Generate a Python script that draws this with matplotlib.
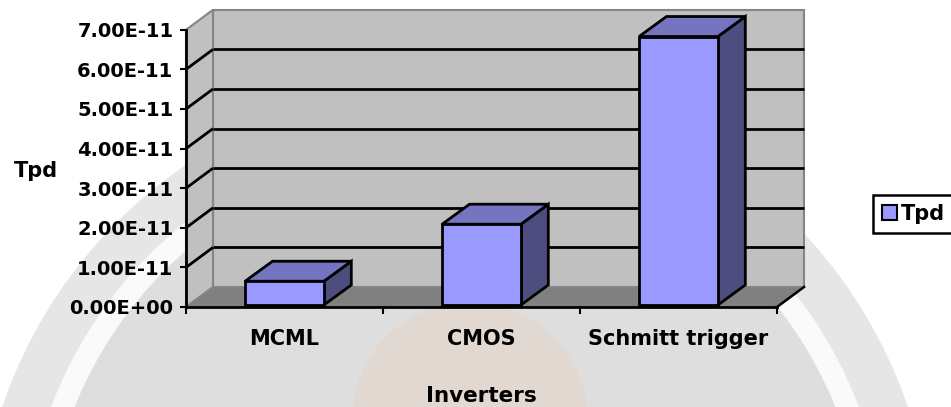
import matplotlib
matplotlib.use("Agg")
import matplotlib.pyplot as plt
from matplotlib.patches import Polygon, Circle, Patch
from matplotlib.ticker import FixedLocator, FuncFormatter, NullFormatter

# ---- data -------------------------------------------------------------
categories = ["MCML", "CMOS", "Schmitt trigger"]
tpd_values = [0.60e-11, 2.04e-11, 6.78e-11]
y_ticks = [0.0, 1e-11, 2e-11, 3e-11, 4e-11, 5e-11, 6e-11, 7e-11]
series_name = "Tpd"
x_title = "Inverters"
y_title = "Tpd"

# ---- styling ----------------------------------------------------------
FONT = "DejaVu Sans"
WALL = "#C0C0C0"
FLOOR = "#808080"
EDGE_GRAY = "#858585"
BAR_FRONT = "#9999FF"
BAR_TOP = "#7474C0"
BAR_SIDE = "#4D4D80"

W, H = 951, 407
fig = plt.figure(figsize=(W / 100, H / 100), dpi=100)
fig.patch.set_facecolor("white")

# faint page emblem behind the chart
bg = fig.add_axes([0, 0, 1, 1], zorder=-5)
bg.set_xlim(0, W)
bg.set_ylim(H, 0)
bg.axis("off")
cx, cy = 455, 560
bg.add_patch(Circle((cx, cy), 478, facecolor="#E6E6E6", edgecolor="none"))
bg.add_patch(Circle((cx, cy), 432, facecolor="#FAFAFA", edgecolor="none"))
bg.add_patch(Circle((cx, cy), 410, facecolor="#DEDEDE", edgecolor="none"))
bg.add_patch(Circle((470, 420), 118, facecolor="#E8CDBB", edgecolor="none", alpha=0.35))

# ---- 3-D style plot area ----------------------------------------------
PX_CAT = 197.0          # pixels per category
PX_UNIT = 39.6          # pixels per 1e-11
X0_PX, Y0_PX = 186, 307
RIGHT_PX, TOP_PX = 812, 4

ax = fig.add_axes([X0_PX / W, (H - Y0_PX) / H,
                   (RIGHT_PX - X0_PX) / W, (Y0_PX - TOP_PX) / H])
ax.set_facecolor("none")
ax.set_xlim(-0.5, -0.5 + (RIGHT_PX - X0_PX) / PX_CAT)
ax.set_ylim(0, (Y0_PX - TOP_PX) / PX_UNIT * 1e-11)

n = len(categories)
xl, xr = -0.5, n - 0.5
ymax = y_ticks[-1]
DX = 27.0 / PX_CAT
DY = 20.0 / PX_UNIT * 1e-11

# walls and floor
ax.add_patch(Polygon([(xl + DX, DY), (xr + DX, DY), (xr + DX, ymax + DY), (xl + DX, ymax + DY)],
                     closed=True, facecolor=WALL, edgecolor=EDGE_GRAY, lw=1.5, zorder=1, clip_on=False))
ax.add_patch(Polygon([(xl, 0), (xl + DX, DY), (xl + DX, ymax + DY), (xl, ymax)],
                     closed=True, facecolor=WALL, edgecolor=EDGE_GRAY, lw=1.5, zorder=1, clip_on=False))
ax.add_patch(Polygon([(xl, 0), (xr, 0), (xr + DX, DY), (xl + DX, DY)],
                     closed=True, facecolor=FLOOR, edgecolor=EDGE_GRAY, lw=1.2, zorder=1.5, clip_on=False))
ax.plot([xr, xr + DX], [0, DY], color="black", lw=1.8, zorder=1.6, clip_on=False)

# gridlines on the back and side walls
for v in y_ticks[1:-1]:
    ax.plot([xl + DX, xr + DX], [v + DY, v + DY], color="black", lw=2, zorder=2,
            solid_capstyle="butt", clip_on=False)
    ax.plot([xl, xl + DX], [v, v + DY], color="black", lw=2, zorder=2,
            solid_capstyle="butt", clip_on=False)

# bars as boxes
HALF = 0.2
LIFT = 2.0 / PX_UNIT * 1e-11
BDX = 27.4 / PX_CAT
BDY = DY
for i, v in enumerate(tpd_values):
    x0, x1 = i - HALF, i + HALF
    yb, yt = LIFT, v + LIFT
    kw = dict(closed=True, edgecolor="black", lw=2, joinstyle="miter", zorder=3, clip_on=False)
    ax.add_patch(Polygon([(x1, yb), (x1 + BDX, yb + BDY), (x1 + BDX, yt + BDY), (x1, yt)],
                         facecolor=BAR_SIDE, **kw))
    ax.add_patch(Polygon([(x0, yt), (x1, yt), (x1 + BDX, yt + BDY), (x0 + BDX, yt + BDY)],
                         facecolor=BAR_TOP, **kw))
    ax.add_patch(Polygon([(x0, yb), (x1, yb), (x1, yt), (x0, yt)],
                         facecolor=BAR_FRONT, **kw))

# axes lines and ticks
for s in ("top", "right"):
    ax.spines[s].set_visible(False)
ax.spines["left"].set_bounds(0, ymax)
ax.spines["bottom"].set_bounds(xl, xr)
for s in ("left", "bottom"):
    ax.spines[s].set_linewidth(2)
    ax.spines[s].set_zorder(4)

ax.yaxis.set_major_locator(FixedLocator(y_ticks))
ax.yaxis.set_major_formatter(FuncFormatter(lambda v, p: f"{v:.2E}"))
ax.tick_params(axis="y", direction="out", length=4, width=1.5, pad=5,
               labelsize=14, labelcolor="black")

ax.xaxis.set_major_locator(FixedLocator([xl + k for k in range(n + 1)]))
ax.xaxis.set_major_formatter(NullFormatter())
ax.xaxis.set_minor_locator(FixedLocator(list(range(n))))
ax.xaxis.set_minor_formatter(FuncFormatter(lambda v, p: categories[int(round(v))]))
ax.tick_params(axis="x", which="major", direction="out", length=5, width=1.5)
ax.tick_params(axis="x", which="minor", length=0, pad=16, labelsize=15)

for lab in ax.get_yticklabels() + ax.get_xticklabels(minor=True):
    lab.set_fontfamily(FONT)
    lab.set_fontweight("bold")

# titles
fig.text(36 / W, (H - 177) / H, y_title, ha="center", va="baseline",
         fontsize=15, fontweight="bold", fontfamily=FONT)
fig.text(481 / W, (H - 402) / H, x_title, ha="center", va="baseline",
         fontsize=15.5, fontweight="bold", fontfamily=FONT)

# legend, running off the right edge of the figure
handle = Patch(facecolor=BAR_FRONT, edgecolor="black", lw=1.5, label=series_name)
leg = fig.legend(handles=[handle], loc="center left",
                 bbox_to_anchor=(873 / W, 1 - 214 / H, 100 / W, 0),
                 bbox_transform=fig.transFigure, mode="expand", frameon=True, fancybox=False,
                 edgecolor="black", framealpha=1, borderaxespad=0, borderpad=0.45,
                 handlelength=0.7, handleheight=0.7, handletextpad=0.2,
                 prop={"family": FONT, "weight": "bold", "size": 15})
leg.get_frame().set_linewidth(1.8)

fig.savefig("out.png", dpi=100)
